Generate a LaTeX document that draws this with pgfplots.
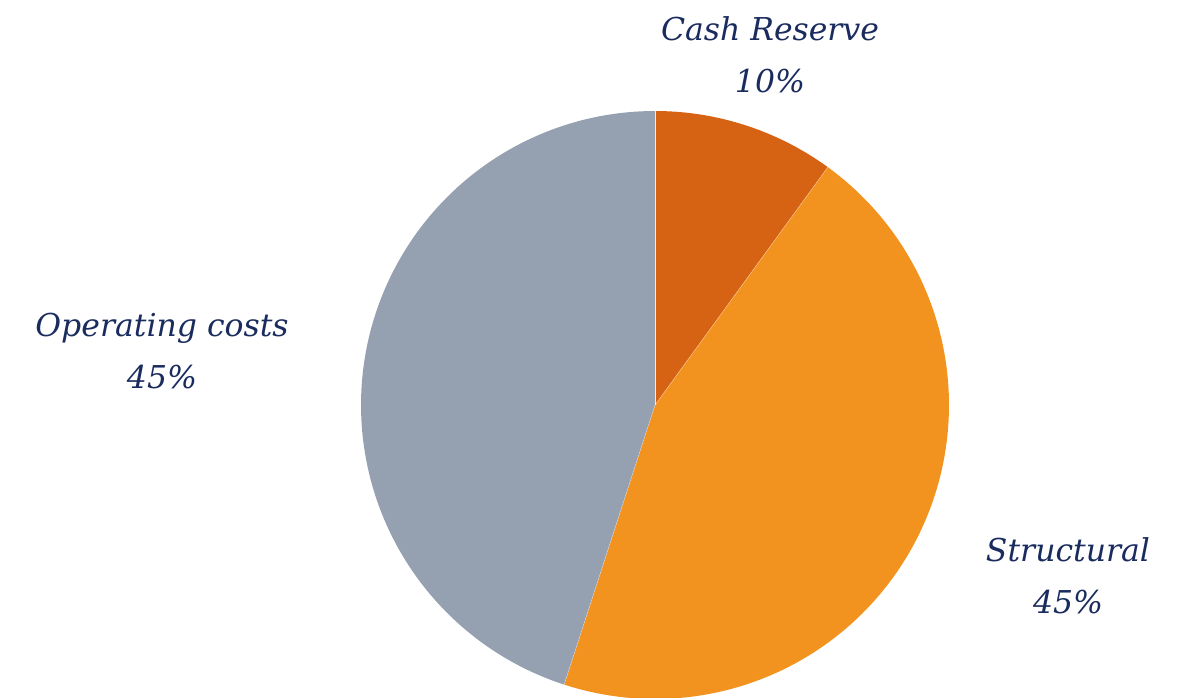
\documentclass[border=0pt]{standalone}
\usepackage{fontspec}
\setmainfont{DejaVu Serif}
\usepackage{pgfplots}
\pgfplotsset{compat=1.18}
\definecolor{cashc}{HTML}{D66214}
\definecolor{structc}{HTML}{F3931F}
\definecolor{operc}{HTML}{95A0B1}
\definecolor{navy}{HTML}{1A2B5E}

% shares in percent, clockwise from 12 o'clock
\def\shareCash{10}
\def\shareStruct{45}
\def\shareOper{45}

\begin{document}
\begin{tikzpicture}
\pgfmathsetmacro\aA{90}
\pgfmathsetmacro\aB{\aA-3.6*\shareCash}
\pgfmathsetmacro\aC{\aB-3.6*\shareStruct}
\pgfmathsetmacro\aD{\aC-3.6*\shareOper}
\def\cx{655}\def\cy{292}\def\rr{294}
\begin{axis}[
  x=1pt, y=1pt,
  xmin=0, xmax=1184, ymin=0, ymax=697,
  hide axis, clip=true,
]
\addplot[draw=none, forget plot] coordinates {(0,0) (1184,697)};
\addplot[fill=cashc, draw=none, domain=\aB:\aA, samples=60]
  ({\cx+\rr*cos(x)},{\cy+\rr*sin(x)}) -- (axis cs:\cx,\cy) -- cycle;
\addplot[fill=structc, draw=none, domain=\aC:\aB, samples=120]
  ({\cx+\rr*cos(x)},{\cy+\rr*sin(x)}) -- (axis cs:\cx,\cy) -- cycle;
\addplot[fill=operc, draw=none, domain=\aD:\aC, samples=120]
  ({\cx+\rr*cos(x)},{\cy+\rr*sin(x)}) -- (axis cs:\cx,\cy) -- cycle;
% thin separators
\addplot[white!85!gray, line width=0.6pt] coordinates {(\cx,\cy) (\cx,\cy+\rr)};
\addplot[white, line width=0.4pt, opacity=0.5] coordinates {(\cx,\cy) ({\cx+\rr*cos(\aB)},{\cy+\rr*sin(\aB)})};
\addplot[white, line width=0.4pt, opacity=0.5] coordinates {(\cx,\cy) ({\cx+\rr*cos(\aC)},{\cy+\rr*sin(\aC)})};

\tikzset{lbl/.style={font=\itshape\fontsize{31.5}{52}\selectfont, text=navy, align=center}}
\node[lbl] at (axis cs:770,642) {Cash Reserve\\\shareCash\%};
\node[lbl] at (axis cs:162,346) {Operating costs\\\shareOper\%};
\node[lbl] at (axis cs:1068,121) {Structural\\\shareStruct\%};
\end{axis}
\end{tikzpicture}
\end{document}
